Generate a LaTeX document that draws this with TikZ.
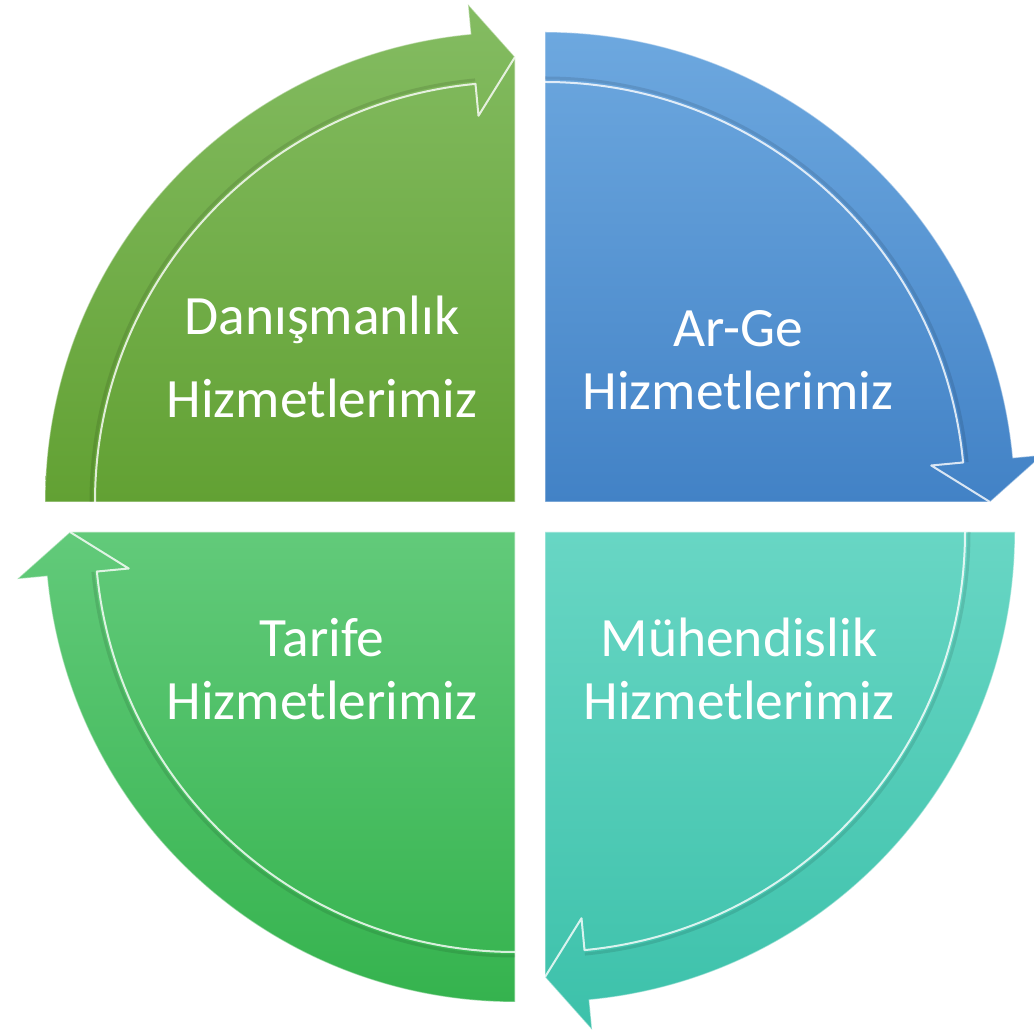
\documentclass[tikz,border=0pt]{standalone}
\usepackage{fontspec}
\setmainfont{Carlito}
\definecolor{tlTop}{HTML}{84BC62}
\definecolor{tlBot}{HTML}{62A133}
\definecolor{trTop}{HTML}{6DA8DF}
\definecolor{trBot}{HTML}{4282C6}
\definecolor{brTop}{HTML}{68D6C4}
\definecolor{brBot}{HTML}{3CC1AA}
\definecolor{blTop}{HTML}{62CA7A}
\definecolor{blBot}{HTML}{35B34E}
\tikzset{
  lbl/.style={text=white, font=\fontsize{55.5}{63}\selectfont, anchor=base, inner sep=0pt},
  rim/.style={draw=white, draw opacity=0.45, line width=1.2pt},
  bevel/.style={draw=white, draw opacity=0.8, line width=2pt, line join=round},
  shade/.style={draw=black, draw opacity=0.10, line width=3pt, line join=round}
}
% #1 centre, #2 tail angle, #3 top colour, #4 bottom colour
\newcommand\quadarrow[4]{%
  \path[top color=#3, bottom color=#4, rim]
    ([shift={(#1)}]#2:470) arc[start angle=#2, delta angle=-84.6, radius=470]
    -- ([shift={(#1)}]#2-84.6:500) -- ([shift={(#1)}]#2-90:445) -- (#1) -- cycle;
  \draw[shade]
    ([shift={(#1)}]#2:424) arc[start angle=#2, delta angle=-84.6, radius=424];
  \draw[bevel]
    ([shift={(#1)}]#2:420) arc[start angle=#2, delta angle=-84.6, radius=420]
    -- ([shift={(#1)}]#2-84.6:388) -- ([shift={(#1)}]#2-90:445);
}
\begin{document}
\begin{tikzpicture}[x=1pt,y=1pt]
\useasboundingbox (0,0) rectangle (1034,1034);
\clip (0,0) rectangle (1034,1034);
\coordinate (ctl) at (515,532);
\coordinate (ctr) at (545,532);
\coordinate (cbr) at (545,502);
\coordinate (cbl) at (515,502);
\quadarrow{ctl}{180}{tlTop}{tlBot}
\quadarrow{ctr}{90}{trTop}{trBot}
\quadarrow{cbr}{0}{brTop}{brBot}
\quadarrow{cbl}{-90}{blTop}{blBot}
\node[lbl] (tl1) at (322,699) {Danışmanlık};
\node[lbl] (tl2) at (322,616) {Hizmetlerimiz};
\node[lbl] (tr1) at (738,687) {Ar-Ge};
\node[lbl] (tr2) at (738,624) {Hizmetlerimiz};
\node[lbl] (br1) at (739,377) {Mühendislik};
\node[lbl] (br2) at (739,314) {Hizmetlerimiz};
\node[lbl] (bl1) at (322,377) {Tarife};
\node[lbl] (bl2) at (322,314) {Hizmetlerimiz};
\end{tikzpicture}
\end{document}
